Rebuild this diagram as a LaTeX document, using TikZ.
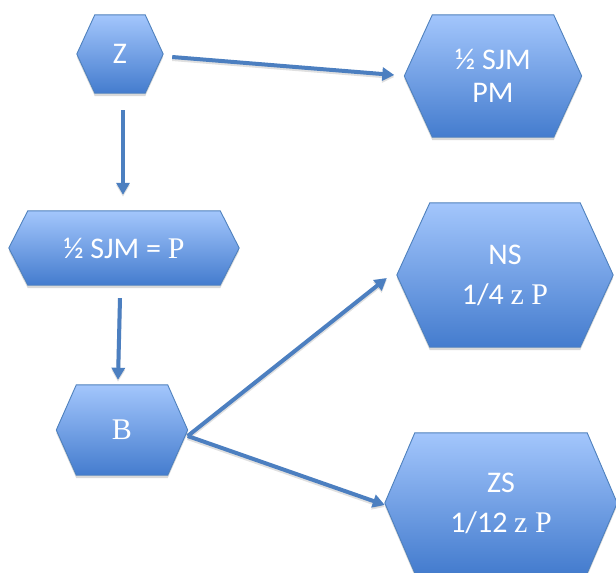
\documentclass[tikz,border=0pt]{standalone}
\usepackage{fontspec}
\setmainfont{Carlito}
\newfontfamily\serifpart{Liberation Serif}
\usetikzlibrary{calc,arrows.meta}
\pgfdeclarelayer{background}
\pgfsetlayers{background,main}
\definecolor{hextop}{RGB}{163,198,252}
\definecolor{hexbot}{RGB}{68,124,206}
\definecolor{hexline}{RGB}{79,129,189}
\definecolor{arrowc}{RGB}{76,127,192}
\tikzset{
  hexnode/.style n args={2}{draw=none, inner sep=0pt, text=white, align=center,
    minimum width=#1, minimum height=#2},
  hexfill/.style={draw=hexline, line width=0.9pt, top color=hextop, bottom color=hexbot,
    preaction={fill=black, opacity=0.15, transform canvas={yshift=-3pt}}},
  conn/.style={draw=arrowc, line width=4pt, -{Triangle[width=13pt,length=12pt]},
    preaction={draw=black, opacity=0.12, line width=4pt, transform canvas={yshift=-2pt}, -{Triangle[width=13pt,length=12pt]}}},
  big/.style={font=\fontsize{30}{33}\selectfont},
  bigwide/.style={font=\fontsize{30}{40}\selectfont}
}
\newcommand\hexshape[2]{%
  \begin{pgfonlayer}{background}
  \path[hexfill] (#1.west) -- ($(#1.north west)+(#2,0)$) -- ($(#1.north east)+(-#2,0)$)
    -- (#1.east) -- ($(#1.south east)+(-#2,0)$) -- ($(#1.south west)+(#2,0)$) -- cycle;
  \end{pgfonlayer}}
\begin{document}
\begin{tikzpicture}[x=1pt,y=-1pt]
\useasboundingbox (0,0) rectangle (616,573);
\node[hexnode={86pt}{78pt}, big] (z) at (120,54) {Z};
\node[hexnode={177pt}{122pt}, big] (pm) at (493,76) {½ SJM\\PM};
\node[hexnode={230pt}{74pt}, big] (sjmp) at (124,248) {½ SJM = {\serifpart P}};
\node[hexnode={216pt}{144pt}, bigwide] (ns) at (505,275) {NS\\1/4 {\serifpart z P}};
\node[hexnode={131pt}{90pt}, big] (b) at (122,430) {\serifpart B};
\node[hexnode={232pt}{140pt}, bigwide] (zs) at (501,503) {ZS\\1/12 {\serifpart z P}};
\hexshape{z}{18}
\hexshape{pm}{28}
\hexshape{sjmp}{19}
\hexshape{ns}{33}
\hexshape{b}{20}
\hexshape{zs}{30}
\draw[conn] ($(z.east)+(9,3)$) -- ($(pm.west)+(-10,-1)$);
\draw[conn] ($(z.south)+(3,17)$) -- ($(sjmp.north)+(-1,-16)$);
\draw[conn] ($(sjmp.south)+(-4,13)$) -- ($(b.north)+(-4,-5)$);
\draw[conn] ($(b.east)+(0,6)$) -- ($(ns.west)+(-10,3)$);
\draw[conn] ($(b.east)+(0,6)$) -- ($(zs.west)+(0,2)$);
\end{tikzpicture}
\end{document}
